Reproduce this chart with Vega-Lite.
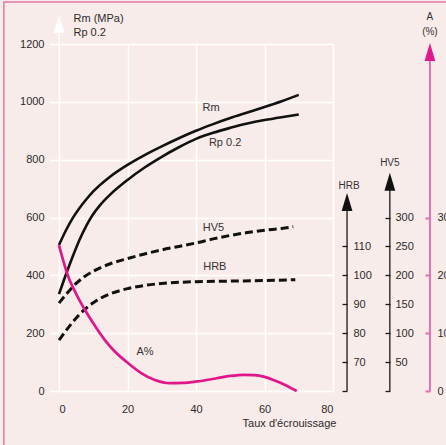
{
  "$schema": "https://vega.github.io/schema/vega-lite/v6.json",
  "width": 274,
  "height": 347,
  "autosize": {"type": "none"},
  "padding": {"left": 59, "top": 44, "right": 113, "bottom": 54},
  "background": "#f8ecea",
  "config": {
    "view": {"stroke": null},
    "font": "Liberation Sans",
    "text": {"font": "Liberation Sans"},
    "axis": {"labelFont": "Liberation Sans", "titleFont": "Liberation Sans", "labelFontSize": 11, "labelColor": "#2b2b2b", "titleColor": "#2b2b2b"}
  },
  "datasets": {
    "mech": [
      {"taux": 0, "serie": "Rm", "valeur": 505},
      {"taux": 2, "serie": "Rm", "valeur": 555},
      {"taux": 4, "serie": "Rm", "valeur": 598},
      {"taux": 6, "serie": "Rm", "valeur": 633},
      {"taux": 8, "serie": "Rm", "valeur": 663},
      {"taux": 10, "serie": "Rm", "valeur": 690},
      {"taux": 15, "serie": "Rm", "valeur": 742},
      {"taux": 20, "serie": "Rm", "valeur": 782},
      {"taux": 25, "serie": "Rm", "valeur": 816},
      {"taux": 30, "serie": "Rm", "valeur": 846},
      {"taux": 35, "serie": "Rm", "valeur": 874},
      {"taux": 40, "serie": "Rm", "valeur": 900},
      {"taux": 45, "serie": "Rm", "valeur": 923},
      {"taux": 50, "serie": "Rm", "valeur": 944},
      {"taux": 55, "serie": "Rm", "valeur": 963},
      {"taux": 60, "serie": "Rm", "valeur": 982},
      {"taux": 65, "serie": "Rm", "valeur": 1002},
      {"taux": 70, "serie": "Rm", "valeur": 1024},
      {"taux": 0, "serie": "Rp 0.2", "valeur": 335},
      {"taux": 2, "serie": "Rp 0.2", "valeur": 402},
      {"taux": 4, "serie": "Rp 0.2", "valeur": 465},
      {"taux": 6, "serie": "Rp 0.2", "valeur": 523},
      {"taux": 8, "serie": "Rp 0.2", "valeur": 572},
      {"taux": 10, "serie": "Rp 0.2", "valeur": 612},
      {"taux": 12, "serie": "Rp 0.2", "valeur": 643},
      {"taux": 15, "serie": "Rp 0.2", "valeur": 680},
      {"taux": 20, "serie": "Rp 0.2", "valeur": 730},
      {"taux": 25, "serie": "Rp 0.2", "valeur": 773},
      {"taux": 30, "serie": "Rp 0.2", "valeur": 810},
      {"taux": 35, "serie": "Rp 0.2", "valeur": 843},
      {"taux": 40, "serie": "Rp 0.2", "valeur": 872},
      {"taux": 45, "serie": "Rp 0.2", "valeur": 893},
      {"taux": 50, "serie": "Rp 0.2", "valeur": 910},
      {"taux": 55, "serie": "Rp 0.2", "valeur": 925},
      {"taux": 60, "serie": "Rp 0.2", "valeur": 937},
      {"taux": 65, "serie": "Rp 0.2", "valeur": 947},
      {"taux": 70, "serie": "Rp 0.2", "valeur": 956}
    ],
    "hv5": [
      {"taux": 0, "hv": 152},
      {"taux": 2.5, "hv": 170},
      {"taux": 5, "hv": 186},
      {"taux": 7.5, "hv": 198},
      {"taux": 10, "hv": 207},
      {"taux": 15, "hv": 220},
      {"taux": 20, "hv": 229},
      {"taux": 25, "hv": 237},
      {"taux": 30, "hv": 244},
      {"taux": 35, "hv": 250},
      {"taux": 40, "hv": 256},
      {"taux": 45, "hv": 263},
      {"taux": 50, "hv": 269},
      {"taux": 55, "hv": 274},
      {"taux": 60, "hv": 278},
      {"taux": 65, "hv": 281},
      {"taux": 68.4, "hv": 284}
    ],
    "hrb": [
      {"taux": 0, "hrb": 77.6},
      {"taux": 2, "hrb": 80.8},
      {"taux": 4, "hrb": 83.8},
      {"taux": 6, "hrb": 86.5},
      {"taux": 8, "hrb": 88.7},
      {"taux": 10, "hrb": 90.5},
      {"taux": 12, "hrb": 92},
      {"taux": 15, "hrb": 93.6},
      {"taux": 20, "hrb": 95.4},
      {"taux": 25, "hrb": 96.5},
      {"taux": 30, "hrb": 97.2},
      {"taux": 40, "hrb": 97.8},
      {"taux": 50, "hrb": 98},
      {"taux": 60, "hrb": 98.2},
      {"taux": 69, "hrb": 98.5}
    ],
    "allong": [
      {"taux": 0, "a": 25.2},
      {"taux": 2.7, "a": 19.8},
      {"taux": 5, "a": 16.8},
      {"taux": 7.6, "a": 14.0},
      {"taux": 10, "a": 11.7},
      {"taux": 13.4, "a": 8.8},
      {"taux": 16, "a": 7.0},
      {"taux": 20.2, "a": 4.8},
      {"taux": 24, "a": 3.1},
      {"taux": 28, "a": 1.9},
      {"taux": 32.4, "a": 1.35},
      {"taux": 36, "a": 1.4},
      {"taux": 40.2, "a": 1.65},
      {"taux": 46, "a": 2.2},
      {"taux": 50, "a": 2.6},
      {"taux": 54, "a": 2.8},
      {"taux": 57, "a": 2.75},
      {"taux": 60, "a": 2.45},
      {"taux": 63, "a": 1.8},
      {"taux": 66, "a": 1.05},
      {"taux": 69.4, "a": 0}
    ],
    "labels": [
      {"label": "Rm", "taux": 44.4, "valeur": 978},
      {"label": "Rp 0.2", "taux": 48.5, "valeur": 858},
      {"label": "HV5", "taux": 45.1, "valeur": 564},
      {"label": "HRB", "taux": 45.5, "valeur": 429},
      {"label": "A%", "taux": 25.1, "valeur": 135}
    ]
  },
  "resolve": {"scale": {"y": "independent"}, "axis": {"y": "independent"}},
  "layer": [
    {
      "layer": [
        {
          "data": {"values": [{}]},
          "mark": {"type": "rect", "fillOpacity": 0, "stroke": "#e07aa5", "strokeWidth": 1.5},
          "encoding": {
            "x": {"datum": -16.1, "type": "quantitative", "scale": {"domain": [0, 80]}},
            "x2": {"datum": 150},
            "y": {"datum": 1345, "type": "quantitative", "scale": {"domain": [0, 1200]}},
            "y2": {"datum": -400}
          }
        },
        {
          "data": {"name": "mech"},
          "mark": {"type": "line", "color": "#111111", "strokeWidth": 2.6, "interpolate": "monotone"},
          "encoding": {
            "x": {
              "field": "taux", "type": "quantitative", "scale": {"domain": [0, 80]},
              "axis": {
                "values": [0, 10, 20, 30, 40, 50, 60, 70, 80],
                "labelExpr": "datum.value % 20 == 0 ? datum.label : ''",
                "grid": true, "gridColor": "#ffffff", "gridWidth": 1.5, "gridOpacity": 1,
                "ticks": false, "domain": false, "labelPadding": 12, "labelAngle": 0,
                "title": "Taux d'écrouissage", "titleFontSize": 11, "titleFontWeight": "normal",
                "titleX": 230, "titleY": 32, "titleBaseline": "middle", "titleAlign": "center"
              }
            },
            "y": {
              "field": "valeur", "type": "quantitative", "scale": {"domain": [0, 1200]},
              "axis": {
                "values": [0, 100, 200, 300, 400, 500, 600, 700, 800, 900, 1000, 1100, 1200],
                "format": "d",
                "labelExpr": "datum.value % 200 == 0 ? datum.label : ''",
                "grid": true, "gridColor": "#ffffff", "gridWidth": 1.5, "gridOpacity": 1,
                "tickColor": "#ffffff", "tickSize": 9, "tickWidth": 1.5, "domain": false, "labelPadding": 6,
                "title": ["Rm (MPa)", "Rp 0.2"], "titleAngle": 0, "titleAlign": "left", "titleBaseline": "top",
                "titleX": 14, "titleY": -32, "titleFontSize": 11, "titleFontWeight": "normal", "titleLineHeight": 14
              }
            },
            "detail": {"field": "serie"}
          }
        },
        {
          "data": {"values": [{}]},
          "mark": {"type": "rule", "color": "#ffffff", "strokeWidth": 1.5},
          "encoding": {
            "x": {"datum": 0, "type": "quantitative", "scale": {"domain": [0, 80]}},
            "y": {"datum": 1200, "type": "quantitative", "scale": {"domain": [0, 1200]}},
            "y2": {"datum": 1269}
          }
        },
        {
          "data": {"values": [{}]},
          "mark": {"type": "point", "shape": "M0,-1L0.6,1L-0.6,1Z", "filled": true, "color": "#ffffff", "opacity": 1, "size": 324},
          "encoding": {
            "x": {"datum": 0, "type": "quantitative", "scale": {"domain": [0, 80]}},
            "y": {"datum": 1269, "type": "quantitative", "scale": {"domain": [0, 1200]}}
          }
        },
        {
          "data": {"name": "labels"},
          "mark": {"type": "text", "fontSize": 11, "color": "#333333"},
          "encoding": {
            "x": {"field": "taux", "type": "quantitative", "scale": {"domain": [0, 80]}},
            "y": {"field": "valeur", "type": "quantitative", "scale": {"domain": [0, 1200]}},
            "text": {"field": "label"}
          }
        }
      ]
    },
    {
      "layer": [
        {
          "data": {"name": "hv5"},
          "mark": {"type": "line", "color": "#111111", "strokeWidth": 3, "strokeDash": [8, 4], "interpolate": "monotone"},
          "encoding": {
            "x": {"field": "taux", "type": "quantitative", "scale": {"domain": [0, 80]}},
            "y": {
              "field": "hv", "type": "quantitative", "scale": {"domain": [0, 600]},
              "axis": {
                "orient": "right", "offset": 57, "values": [0, 50, 100, 150, 200, 250, 300], "format": "d",
                "labelExpr": "datum.value == 0 ? '' : datum.label",
                "domain": false, "grid": false, "tickSize": -5, "tickColor": "#1a1a1a", "tickWidth": 1.3,
                "labelPadding": 10, "title": null
              }
            }
          }
        },
        {
          "data": {"values": [{}]},
          "mark": {"type": "rule", "color": "#1a1a1a", "strokeWidth": 1.3},
          "encoding": {
            "x": {"datum": 96.6, "type": "quantitative", "scale": {"domain": [0, 80]}},
            "y": {"datum": 0, "type": "quantitative", "scale": {"domain": [0, 600]}},
            "y2": {"datum": 362}
          }
        },
        {
          "data": {"values": [{}]},
          "mark": {"type": "point", "shape": "M0,-1L0.6,1L-0.6,1Z", "filled": true, "color": "#111111", "opacity": 1, "size": 324},
          "encoding": {
            "x": {"datum": 96.6, "type": "quantitative", "scale": {"domain": [0, 80]}},
            "y": {"datum": 362, "type": "quantitative", "scale": {"domain": [0, 600]}}
          }
        },
        {
          "data": {"values": [{}]},
          "mark": {"type": "text", "fontSize": 10, "color": "#333333", "text": "HV5"},
          "encoding": {
            "x": {"datum": 96.6, "type": "quantitative", "scale": {"domain": [0, 80]}},
            "y": {"datum": 394, "type": "quantitative", "scale": {"domain": [0, 600]}}
          }
        }
      ]
    },
    {
      "layer": [
        {
          "data": {"name": "hrb"},
          "mark": {"type": "line", "color": "#111111", "strokeWidth": 3, "strokeDash": [8, 4], "interpolate": "monotone"},
          "encoding": {
            "x": {"field": "taux", "type": "quantitative", "scale": {"domain": [0, 80]}},
            "y": {
              "field": "hrb", "type": "quantitative", "scale": {"domain": [60, 180]},
              "axis": {
                "orient": "right", "offset": 14, "values": [60, 70, 80, 90, 100, 110], "format": "d",
                "labelExpr": "datum.value == 60 ? '' : datum.label",
                "domain": false, "grid": false, "tickSize": -5, "tickColor": "#1a1a1a", "tickWidth": 1.3,
                "labelPadding": 11, "title": null
              }
            }
          }
        },
        {
          "data": {"values": [{}]},
          "mark": {"type": "rule", "color": "#1a1a1a", "strokeWidth": 1.3},
          "encoding": {
            "x": {"datum": 84.1, "type": "quantitative", "scale": {"domain": [0, 80]}},
            "y": {"datum": 60, "type": "quantitative", "scale": {"domain": [60, 180]}},
            "y2": {"datum": 125.4}
          }
        },
        {
          "data": {"values": [{}]},
          "mark": {"type": "point", "shape": "M0,-1L0.6,1L-0.6,1Z", "filled": true, "color": "#111111", "opacity": 1, "size": 324},
          "encoding": {
            "x": {"datum": 84.1, "type": "quantitative", "scale": {"domain": [0, 80]}},
            "y": {"datum": 125.4, "type": "quantitative", "scale": {"domain": [60, 180]}}
          }
        },
        {
          "data": {"values": [{}]},
          "mark": {"type": "text", "fontSize": 10, "color": "#333333", "text": "HRB"},
          "encoding": {
            "x": {"datum": 84.7, "type": "quantitative", "scale": {"domain": [0, 80]}},
            "y": {"datum": 130.9, "type": "quantitative", "scale": {"domain": [60, 180]}}
          }
        }
      ]
    },
    {
      "layer": [
        {
          "data": {"name": "allong"},
          "mark": {"type": "line", "color": "#e0168a", "strokeWidth": 2.7, "interpolate": "monotone"},
          "encoding": {
            "x": {"field": "taux", "type": "quantitative", "scale": {"domain": [0, 80]}},
            "y": {
              "field": "a", "type": "quantitative", "scale": {"domain": [0, 60]},
              "axis": {
                "orient": "right", "offset": 97, "values": [0, 10, 20, 30], "format": "d",
                "domain": false, "grid": false, "tickSize": -5, "tickColor": "#e070b5", "tickWidth": 2,
                "labelPadding": 12, "title": null
              }
            }
          }
        },
        {
          "data": {"values": [{}]},
          "mark": {"type": "rule", "color": "#e070b5", "strokeWidth": 2},
          "encoding": {
            "x": {"datum": 108.3, "type": "quantitative", "scale": {"domain": [0, 80]}},
            "y": {"datum": 0, "type": "quantitative", "scale": {"domain": [0, 60]}},
            "y2": {"datum": 58.6}
          }
        },
        {
          "data": {"values": [{}]},
          "mark": {"type": "point", "shape": "M0,-1L0.6,1L-0.6,1Z", "filled": true, "color": "#e01a8c", "opacity": 1, "size": 324},
          "encoding": {
            "x": {"datum": 108.3, "type": "quantitative", "scale": {"domain": [0, 80]}},
            "y": {"datum": 58.6, "type": "quantitative", "scale": {"domain": [0, 60]}}
          }
        },
        {
          "data": {"values": [{}]},
          "mark": {"type": "text", "fontSize": 10, "color": "#333333", "text": "A"},
          "encoding": {
            "x": {"datum": 108.3, "type": "quantitative", "scale": {"domain": [0, 80]}},
            "y": {"datum": 64.7, "type": "quantitative", "scale": {"domain": [0, 60]}}
          }
        },
        {
          "data": {"values": [{}]},
          "mark": {"type": "text", "fontSize": 10, "color": "#333333", "text": "(%)"},
          "encoding": {
            "x": {"datum": 108.3, "type": "quantitative", "scale": {"domain": [0, 80]}},
            "y": {"datum": 62.1, "type": "quantitative", "scale": {"domain": [0, 60]}}
          }
        }
      ]
    }
  ]
}
